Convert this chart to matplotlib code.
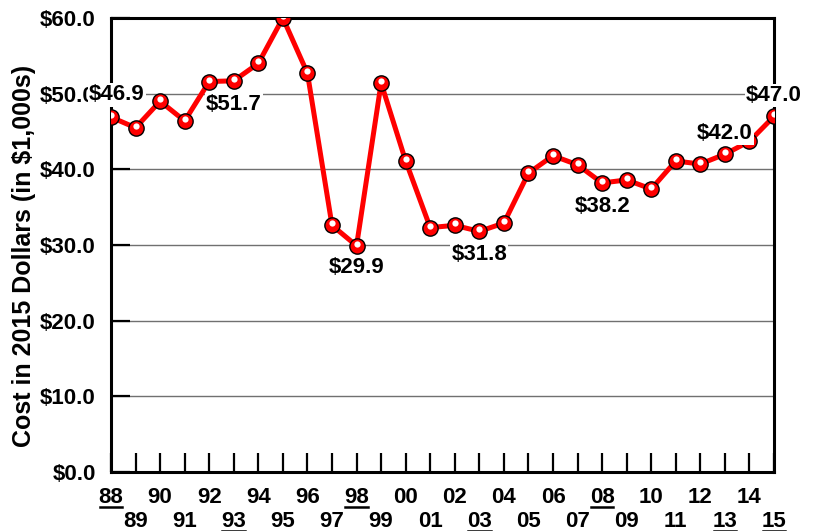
import matplotlib
matplotlib.use("Agg")
import matplotlib.pyplot as plt
import matplotlib.transforms as mtransforms
from matplotlib.lines import Line2D

plt.rcParams['font.family'] = ['Liberation Sans', 'DejaVu Sans']
plt.rcParams['font.weight'] = 'bold'

years = list(range(1988, 2016))
costs = [46.9, 45.5, 49.0, 46.4, 51.6, 51.7, 54.0, 60.0, 52.7, 32.6,
         29.9, 51.4, 41.1, 32.3, 32.6, 31.8, 32.9, 39.5, 41.8, 40.6,
         38.2, 38.6, 37.4, 41.1, 40.7, 42.0, 43.7, 47.0]
label_years = [1988, 1993, 1998, 2003, 2008, 2013, 2015]
label_offsets = {1988: (4, 16), 1993: (0, -17), 1998: (0, -16), 2003: (0, -17),
                 2008: (0, -17), 2013: (0, 15), 2015: (0, 15)}
underlined = [1988, 1993, 1998, 2003, 2008, 2013, 2015]
yticks = [0, 10, 20, 30, 40, 50, 60]
ylabel = "Cost in 2015 Dollars (in \\$1,000s)"

fig = plt.figure(figsize=(8.17, 5.31), dpi=100)
ax = fig.add_axes([111/817, 1-472/531, (774-111)/817, (472-18)/531])

ax.set_xlim(1988, 2015)
ax.set_ylim(0, 60)

ax.plot(years, costs, color='#ff0000', lw=3.6, zorder=3, solid_joinstyle='round')
ax.plot(years, costs, ls='none', marker='o', ms=11, mfc='#ff0000', mec='black',
        mew=1.0, zorder=4)
off = mtransforms.offset_copy(ax.transData, fig=fig, x=0, y=2, units='dots')
ax.plot(years, costs, ls='none', marker='o', ms=4.5, mfc='white', mec='none',
        zorder=5, transform=off)

for y in label_years:
    v = costs[years.index(y)]
    ax.annotate(f"\\${v:.1f}", (y, v), xytext=label_offsets[y], textcoords='offset points',
                ha='center', va='center', fontsize=16, fontweight='bold',
                bbox=dict(boxstyle='square,pad=0.05', fc='white', ec='none'),
                zorder=6, annotation_clip=False, clip_on=False)

ax.set_yticks(yticks)
ax.set_yticklabels([f"\\${t:.1f}" for t in yticks], fontsize=16, fontweight='bold')
ax.grid(axis='y', color='#707070', lw=1.0, zorder=1)
ax.set_axisbelow(True)

even = [y for y in years if y % 2 == 0]
odd = [y for y in years if y % 2 == 1]
ax.set_xticks(even)
ax.set_xticklabels([f"{y % 100:02d}" for y in even], fontsize=16, fontweight='bold')
ax.set_xticks(odd, minor=True)
ax.set_xticklabels([f"{y % 100:02d}" for y in odd], minor=True, fontsize=16, fontweight='bold')

ax.tick_params(axis='x', which='both', direction='in', length=14, width=1.6, color='black')
ax.tick_params(axis='x', which='major', pad=11)
ax.tick_params(axis='x', which='minor', pad=28)
ax.tick_params(axis='y', direction='in', length=14, width=1.6, pad=11)

for s in ax.spines.values():
    s.set_linewidth(2.2)
    s.set_color('black')

ax.set_ylabel(ylabel, fontsize=18, fontweight='bold')
ax.yaxis.set_label_coords(-0.113, 0.476)

fig.canvas.draw()
renderer = fig.canvas.get_renderer()
labels = list(zip(even, ax.get_xticklabels())) + list(zip(odd, ax.get_xticklabels(minor=True)))
for y, t in labels:
    if y in underlined:
        bb = t.get_window_extent(renderer)
        x0, x1 = bb.x0 + 1, bb.x1 - 1
        yy = bb.y0 + 1
        fx0, fy = fig.transFigure.inverted().transform((x0, yy))
        fx1, _ = fig.transFigure.inverted().transform((x1, yy))
        fig.add_artist(Line2D([fx0, fx1], [fy, fy], color='black', lw=1.8,
                              transform=fig.transFigure))

fig.savefig("out.png", dpi=100)
